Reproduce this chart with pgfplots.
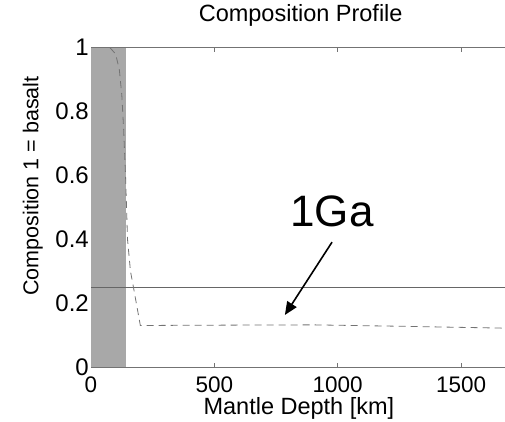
\documentclass[border=0pt]{standalone}
\usepackage{pgfplots}
\pgfplotsset{compat=1.18}
\usepackage{fontspec}
\setmainfont{Liberation Sans}
\usetikzlibrary{arrows.meta}
\begin{document}
\begin{tikzpicture}
\begin{axis}[
  at={(0,0)}, anchor=south west,
  scale only axis,
  width=424.3pt, height=319.3pt,
  xmin=0, xmax=1720, ymin=0, ymax=1,
  xtick={0,500,1000,1500},
  xticklabels={0,500,1000,1500},
  ytick={0,0.2,0.4,0.6,0.8,1},
  yticklabels={0,0.2,0.4,0.6,0.8,1},
  tick align=inside,
  major tick length=4pt,
  axis line style={black!55, line width=0.8pt},
  every tick/.style={black!55, line width=0.6pt},
  /pgf/number format/assume math mode=true,
  xticklabel style={anchor=base, yshift=-25pt, font=\fontsize{22.5}{24}\selectfont},
  yticklabel style={anchor=east, inner sep=2pt, font=\fontsize{24}{26}\selectfont},
  title={Composition Profile},
  title style={at={(axis cs:850,1)}, anchor=base, yshift=20pt, font=\fontsize{23.5}{26}\selectfont},
  xlabel={Mantle Depth [km]},
  xlabel style={at={(axis description cs:0.49,-0.15)}, anchor=base, font=\fontsize{23.5}{26}\selectfont},
  ylabel={Composition 1 = basalt},
  ylabel style={at={(axis description cs:-0.137,0.567)}, anchor=center, font=\fontsize{21.5}{24}\selectfont},
  clip=true,
]
\addplot[fill={rgb,255:red,168;green,168;blue,168}, draw=none] coordinates {(0,0) (140,0) (140,1) (0,1)} -- cycle;
\addplot[color=black!60, line width=0.8pt] coordinates {(0,0.25) (1720,0.25)};
\addplot[color=black!55, line width=0.8pt, dash pattern=on 7pt off 5pt] coordinates {
(77,1) (100,0.98) (115,0.93) (125,0.85) (132,0.75) (140,0.6) (148,0.4) (160,0.3) (172,0.25) (200,0.13) (500,0.131) (900,0.132) (1300,0.127) (1720,0.121)};
\draw[-{Triangle[length=13pt,width=11pt]}, line width=1.6pt] (axis cs:977,0.391) -- (axis cs:786,0.163);
\node[font=\fontsize{44}{48}\selectfont] at (axis cs:977,0.489) {1Ga};
\end{axis}
\pgfresetboundingbox
\path[use as bounding box] (-91pt,-55pt) rectangle (414pt,367pt);
\end{tikzpicture}
\end{document}
